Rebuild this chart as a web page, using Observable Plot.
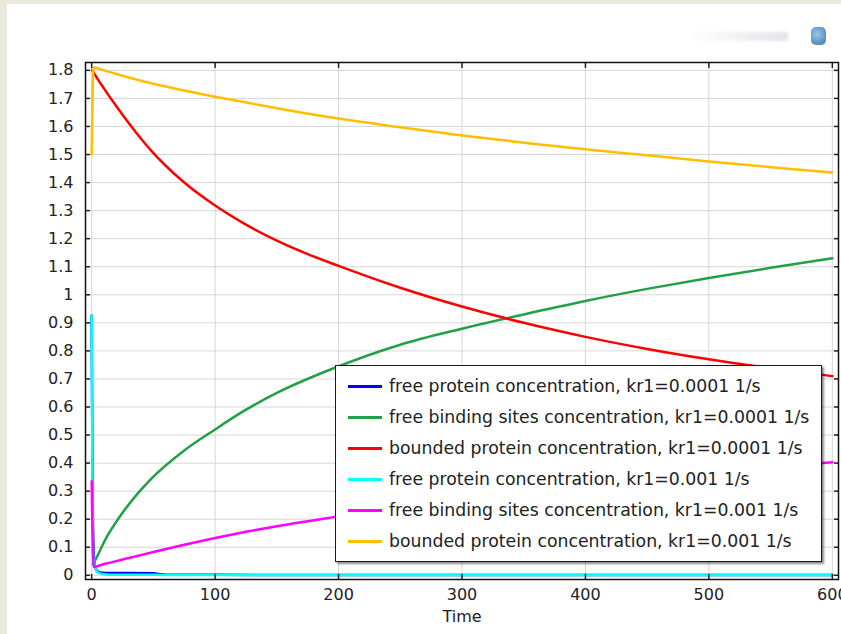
<!DOCTYPE html>
<html><head><meta charset="utf-8">
<script src="https://cdn.jsdelivr.net/npm/d3@7"></script>
<script src="https://cdn.jsdelivr.net/npm/@observablehq/plot@0.6"></script>
<style>
html,body{margin:0;padding:0;}
body{width:841px;height:634px;background:#ebe8dc;position:relative;overflow:hidden;font-family:"DejaVu Sans",sans-serif;}
#panel{position:absolute;left:7px;top:4px;right:0;bottom:0;background:#fff;}
#chart{position:absolute;left:0;top:0;}
#logo1{position:absolute;left:688px;top:32px;width:100px;height:9px;background:linear-gradient(90deg,rgba(200,205,210,0),rgba(200,205,212,0.55));filter:blur(1.5px);}
#logo2{position:absolute;left:811px;top:27px;width:15px;height:18px;border-radius:5px;background:radial-gradient(circle at 40% 40%,#9cc4e6,#3f78b0);filter:blur(0.6px);}
#legend{position:absolute;left:335px;top:365px;width:487px;height:197px;border:1.5px solid #1a1a1a;background:#fff;box-shadow:2px 2px 2px rgba(0,0,0,0.45);padding-top:5px;box-sizing:border-box;}
.row{position:relative;height:31px;}
.sw{position:absolute;left:12px;top:14px;width:34px;height:3px;}
.lab{position:absolute;left:53px;top:0;line-height:31px;font-size:17.3px;color:#222;white-space:nowrap;font-family:"DejaVu Sans",sans-serif;}
</style>
</head><body>
<div id="panel"></div>
<div id="logo1"></div><div id="logo2"></div>
<div id="chart"></div>
<div id="legend"></div>
<script>
// ---- data ----
const xTicks = [0, 100, 200, 300, 400, 500, 600];
const yTicks = [0, 0.1, 0.2, 0.3, 0.4, 0.5, 0.6, 0.7, 0.8, 0.9, 1, 1.1, 1.2, 1.3, 1.4, 1.5, 1.6, 1.7, 1.8];

const seriesNames = [
  "free protein concentration, kr1=0.0001 1/s",
  "free binding sites concentration, kr1=0.0001 1/s",
  "bounded protein concentration, kr1=0.0001 1/s",
  "free protein concentration, kr1=0.001 1/s",
  "free binding sites concentration, kr1=0.001 1/s",
  "bounded protein concentration, kr1=0.001 1/s"
];
const seriesColors = ["#0000ff", "#22a045", "#ff0000", "#00ffff", "#ff00ff", "#ffbf00"];

const tBlue = [0, 0.5, 1, 2, 3, 5, 8, 15, 30, 50, 55, 60, 100, 200, 400, 600];
const vBlue = [0.925, 0.5, 0.2, 0.05, 0.025, 0.013, 0.009, 0.008, 0.008, 0.007, 0.004, 0.002, 0.0015, 0.0012, 0.001, 0.001];

const tGreen = [1, 3, 12, 21, 36, 48, 75, 100, 123, 150, 196, 250, 300, 350, 400, 450, 500, 550, 600];
const vGreen = [0.04, 0.055, 0.135, 0.198, 0.285, 0.343, 0.445, 0.52, 0.585, 0.65, 0.738, 0.822, 0.879, 0.93, 0.978, 1.021, 1.06, 1.096, 1.13];

const tRed = [0.5, 5, 10, 20, 30, 40, 50, 60, 75, 100, 125, 150, 175, 200, 250, 300, 350, 400, 450, 500, 550, 600];
const vRed = [1.80, 1.768, 1.735, 1.672, 1.612, 1.556, 1.505, 1.46, 1.40, 1.318, 1.25, 1.193, 1.145, 1.103, 1.025, 0.958, 0.9, 0.85, 0.807, 0.77, 0.738, 0.71];

const tCyan = [0, 0.5, 1, 2, 4, 6, 10, 20, 50, 100, 600];
const vCyan = [0.925, 0.45, 0.1, 0.04, 0.015, 0.008, 0.004, 0.002, 0.0015, 0.001, 0.001];

const tMagenta = [0, 0.5, 1, 1.6, 10, 25, 50, 75, 100, 125, 150, 200, 250, 300, 350, 400, 450, 500, 550, 600];
const vMagenta = [0.335, 0.2, 0.08, 0.03, 0.04, 0.056, 0.083, 0.109, 0.133, 0.155, 0.175, 0.21, 0.243, 0.272, 0.299, 0.324, 0.346, 0.367, 0.386, 0.403];

const tYellow = [0, 1.5, 10, 25, 50, 75, 100, 150, 200, 250, 300, 350, 400, 450, 500, 550, 600];
const vYellow = [1.50, 1.81, 1.80, 1.781, 1.752, 1.728, 1.706, 1.665, 1.628, 1.597, 1.568, 1.542, 1.519, 1.497, 1.475, 1.455, 1.436];

// ---- build ----
const timeArrays = [tBlue, tGreen, tRed, tCyan, tMagenta, tYellow];
const valueArrays = [vBlue, vGreen, vRed, vCyan, vMagenta, vYellow];
const series = timeArrays.map((ts, i) => ts.map((t, j) => ({t, v: valueArrays[i][j]})));

const fmt = d => String(+d.toFixed(1));

const lineMarks = series.map((data, i) =>
  Plot.line(data, {x: "t", y: "v", stroke: seriesColors[i], strokeWidth: 2.5, curve: "monotone-x"})
);

const chart = Plot.plot({
  width: 841,
  height: 634,
  marginLeft: 85,
  marginRight: 3,
  marginTop: 62,
  marginBottom: 55,
  style: {fontFamily: "DejaVu Sans, sans-serif", fontSize: "16px", color: "#222", background: "transparent"},
  x: {domain: [-5, 605]},
  y: {domain: [-0.015, 1.828]},
  marks: [
    Plot.gridX(xTicks, {stroke: "#d6d6d6", strokeOpacity: 1}),
    Plot.gridY(yTicks, {stroke: "#d6d6d6", strokeOpacity: 1}),
    ...lineMarks,
    Plot.axisY(yTicks, {anchor: "left", tickSize: 0, tickPadding: 12, tickFormat: fmt, label: null}),
    Plot.axisY(yTicks, {anchor: "left", tickSize: -5, fill: "none", strokeWidth: 1.5, label: null}),
    Plot.axisY(yTicks, {anchor: "right", tickSize: -5, fill: "none", strokeWidth: 1.5, label: null}),
    Plot.axisX(xTicks, {anchor: "bottom", tickSize: 0, tickPadding: 9, tickFormat: fmt, label: "Time", labelAnchor: "center", labelOffset: 42, labelArrow: "none"}),
    Plot.axisX(xTicks, {anchor: "bottom", tickSize: -5, fill: "none", strokeWidth: 1.5, label: null}),
    Plot.axisX(xTicks, {anchor: "top", tickSize: -5, fill: "none", strokeWidth: 1.5, label: null}),
    Plot.frame({stroke: "#111", strokeWidth: 1.5})
  ]
});
document.getElementById("chart").appendChild(chart);

// legend
const legend = document.getElementById("legend");
seriesNames.forEach((name, i) => {
  const row = document.createElement("div");
  row.className = "row";
  const sw = document.createElement("div");
  sw.className = "sw";
  sw.style.background = seriesColors[i];
  const lab = document.createElement("div");
  lab.className = "lab";
  lab.textContent = name;
  row.appendChild(sw);
  row.appendChild(lab);
  legend.appendChild(row);
});
</script>
</body></html>
